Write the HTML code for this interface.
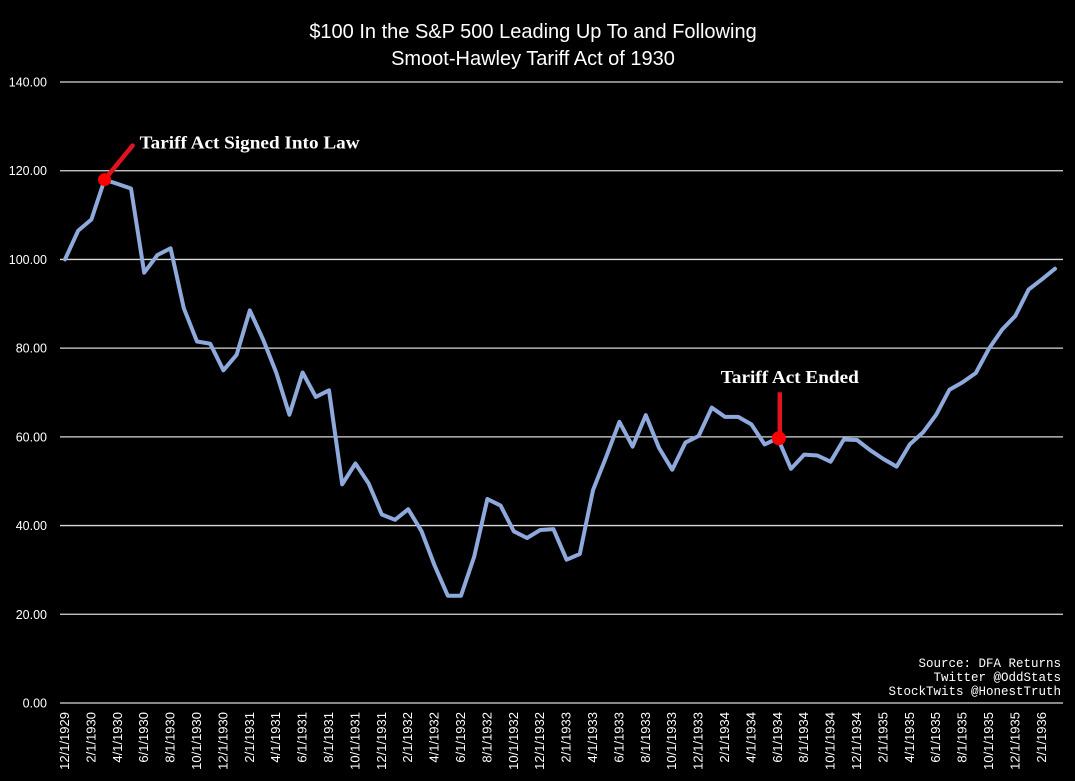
<!DOCTYPE html>
<html><head><meta charset="utf-8"><style>
html,body{margin:0;padding:0;background:#000;}
svg{display:block;}
</style></head><body>
<svg id="chart" width="1075" height="781" viewBox="0 0 1075 781" xmlns="http://www.w3.org/2000/svg">
<rect width="1075" height="781" fill="#000"/>
<text x="533" y="38" fill="#fff" font-family="Liberation Sans, sans-serif" font-size="20" text-anchor="middle">$100 In the S&amp;P 500 Leading Up To and Following</text>
<text x="533" y="65" fill="#fff" font-family="Liberation Sans, sans-serif" font-size="20" text-anchor="middle">Smoot-Hawley Tariff Act of 1930</text>
<g id="grid"></g>
<g id="ylabels"></g>
<g id="xlabels"></g>
<path id="line" fill="none" stroke="#8EA9DB" stroke-width="4" stroke-linejoin="round" stroke-linecap="round"/>
<g id="annot"></g>
<g font-family="Liberation Mono, monospace" font-size="12.5" fill="#fff" text-anchor="end">
<text x="1061" y="667">Source: DFA Returns</text>
<text x="1061" y="681">Twitter @OddStats</text>
<text x="1061" y="695">StockTwits @HonestTruth</text>
</g>
</svg>
<script>
const months = ["12/1/1929","1/1/1930","2/1/1930","3/1/1930","4/1/1930","5/1/1930","6/1/1930","7/1/1930","8/1/1930","9/1/1930","10/1/1930","11/1/1930","12/1/1930","1/1/1931","2/1/1931","3/1/1931","4/1/1931","5/1/1931","6/1/1931","7/1/1931","8/1/1931","9/1/1931","10/1/1931","11/1/1931","12/1/1931","1/1/1932","2/1/1932","3/1/1932","4/1/1932","5/1/1932","6/1/1932","7/1/1932","8/1/1932","9/1/1932","10/1/1932","11/1/1932","12/1/1932","1/1/1933","2/1/1933","3/1/1933","4/1/1933","5/1/1933","6/1/1933","7/1/1933","8/1/1933","9/1/1933","10/1/1933","11/1/1933","12/1/1933","1/1/1934","2/1/1934","3/1/1934","4/1/1934","5/1/1934","6/1/1934","7/1/1934","8/1/1934","9/1/1934","10/1/1934","11/1/1934","12/1/1934","1/1/1935","2/1/1935","3/1/1935","4/1/1935","5/1/1935","6/1/1935","7/1/1935","8/1/1935","9/1/1935","10/1/1935","11/1/1935","12/1/1935","1/1/1936","2/1/1936","3/1/1936"];
const values = [100,106.5,109,118,117,116,97,101,102.5,89,81.5,81,75,78.5,88.5,82,74.5,65,74.5,69,70.5,49.3,54,49.5,42.5,41.3,43.7,38.8,31,24.2,24.2,33,46,44.5,38.7,37.2,39,39.2,32.3,33.6,48,55.5,63.4,57.8,64.9,57.5,52.6,58.7,60.2,66.6,64.5,64.5,62.8,58.3,59.7,52.8,56,55.8,54.4,59.4,59.3,57,55,53.3,58.3,61,65,70.6,72.3,74.4,79.9,84.2,87.3,93.2,95.5,97.9];
const yTicks = [0,20,40,60,80,100,120,140];
const yTickLabels = ["0.00","20.00","40.00","60.00","80.00","100.00","120.00","140.00"];
const events = [{label:"Tariff Act Signed Into Law", idx:3},{label:"Tariff Act Ended", idx:54}];

const NS="http://www.w3.org/2000/svg";
const x0=65, step=13.2, yBase=703, yTop=82, yMax=140;
function xs(i){return x0+i*step;}
function ys(v){return yBase-(v/yMax)*(yBase-yTop);}
function el(t,a,p){const e=document.createElementNS(NS,t);for(const k in a)e.setAttribute(k,a[k]);p.appendChild(e);return e;}

const grid=document.getElementById('grid'), yl=document.getElementById('ylabels'), xl=document.getElementById('xlabels');
yTicks.forEach((t,i)=>{
  const g=el('line',{x1:60,x2:1063,y1:ys(t),y2:ys(t),stroke:'#d9d9d9','stroke-width':1.3},grid);
  
  
  const tx=el('text',{x:47,y:ys(t)+4.5,fill:'#fff','font-family':'Liberation Sans, sans-serif','font-size':12.5,'text-anchor':'end'},yl);
  tx.textContent=yTickLabels[i];
  
  
});
months.forEach((m,i)=>{
  if(i%2!==0)return;
  const x=xs(i)+4, y=712;
  const tx=el('text',{x:x,y:y,fill:'#fff','font-family':'Liberation Sans, sans-serif','font-size':13,'text-anchor':'end',transform:`rotate(-90 ${x} ${y})`},xl);
  tx.textContent=m;
  
  
});
document.getElementById('line').setAttribute('d',values.map((v,i)=>(i?'L':'M')+xs(i).toFixed(1)+' '+ys(v).toFixed(1)).join(' '));

const an=document.getElementById('annot');
// signed
{const e=events[0];const px=xs(e.idx),py=ys(values[e.idx]);
 const l=el('line',{x1:px,y1:py,x2:px+28,y2:py-34,stroke:'#e0141e','stroke-width':4.5,'stroke-linecap':'round'},an);
 
 
 const c=el('circle',{cx:px,cy:py,r:6.5,fill:'#ff0000'},an);
 
 
 const t=el('text',{x:px+35,y:py-31,fill:'#fff','font-family':'Liberation Serif, serif','font-size':18,'font-weight':'bold',textLength:220,lengthAdjust:'spacingAndGlyphs'},an);
 t.textContent=e.label;
 
 }
{const e=events[1];const px=xs(e.idx),py=ys(values[e.idx]);
 const l=el('line',{x1:px+2,y1:py,x2:px+2,y2:py-46,stroke:'#e0141e','stroke-width':4.5},an);
 
 
 const c=el('circle',{cx:px+1,cy:py,r:7,fill:'#ff0000'},an);
 
 
 const t=el('text',{x:px-57,y:py-55,fill:'#fff','font-family':'Liberation Serif, serif','font-size':18,'font-weight':'bold',textLength:138,lengthAdjust:'spacingAndGlyphs'},an);
 t.textContent=e.label;
 
 }
</script>
</body></html>
